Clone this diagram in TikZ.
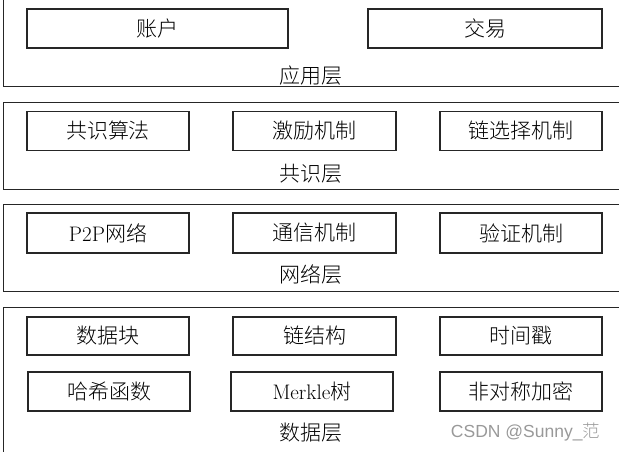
\documentclass[tikz,border=0pt]{standalone}
\usepackage{fontspec}
\newfontfamily\cjk{Noto Sans CJK SC Light}
\newfontfamily\wmfont{Liberation Sans}
\begin{document}
\begin{tikzpicture}[x=1pt,y=-1pt,
  layer/.style={draw=black!85,line width=1.1pt,inner sep=0pt,anchor=north west},
  item/.style={draw=black!85,line width=1.1pt,inner sep=0pt,minimum height=39pt,
    font=\fontsize{21}{25}\selectfont},
  lbl/.style={inner sep=0pt,font=\fontsize{21}{25}\selectfont\cjk},
  wm/.style={inner sep=0pt,text=black!40,font=\fontsize{17.5}{20}\selectfont\wmfont}]
\useasboundingbox (0,0) rectangle (619,451);
\clip (0,0) rectangle (619,451);
% layers
\node[layer,minimum width=640pt,minimum height=96pt] (L1) at (3,-10) {};
\node[layer,minimum width=640pt,minimum height=87.2pt] (L2) at (3,101.5) {};
\node[layer,minimum width=640pt,minimum height=87pt] (L3) at (3,204) {};
\node[layer,minimum width=640pt,minimum height=170pt] (L4) at (3,306.5) {};
% application layer
\node[item,minimum width=261pt] (acct) at (157.5,28.5) {\cjk 账户};
\node[item,minimum width=234pt] (tx) at (485,28.5) {\cjk 交易};
\node[lbl] (l1) at (311,76) {应用层};
% consensus layer
\node[item,minimum width=162pt] (cons) at (108,131) {\cjk 共识算法};
\node[item,minimum width=163pt] (incent) at (314.5,131) {\cjk 激励机制};
\node[item,minimum width=162pt] (chainsel) at (521,131) {\cjk 链选择机制};
\node[lbl] (l2) at (311,173.5) {共识层};
% network layer
\node[item,minimum width=162pt,minimum height=40pt] (p2p) at (108,233) {P2P{\cjk 网络}};
\node[item,minimum width=163pt,minimum height=40pt] (comm) at (314.5,233) {\cjk 通信机制};
\node[item,minimum width=162pt,minimum height=40pt] (verify) at (521,233) {\cjk 验证机制};
\node[lbl] (l3) at (311,274) {网络层};
% data layer
\node[item,minimum width=162pt,minimum height=38pt] (block) at (108,336) {\cjk 数据块};
\node[item,minimum width=163pt,minimum height=38pt] (chain) at (314.5,336) {\cjk 链结构};
\node[item,minimum width=162pt,minimum height=38pt] (ts) at (521,336) {\cjk 时间戳};
\node[item,minimum width=162pt] (hash) at (109,391.5) {\cjk 哈希函数};
\node[item,minimum width=162pt] (merkle) at (312,391.5) {Merkle{\cjk 树}};
\node[item,minimum width=162pt] (asym) at (521,391.5) {\cjk 非对称加密};
\node[lbl] (l4) at (311,433) {数据层};
% watermark
\node[wm] (wmk) at (525.5,432) {CSDN @Sunny\_{\cjk 范}};
\end{tikzpicture}
\end{document}
